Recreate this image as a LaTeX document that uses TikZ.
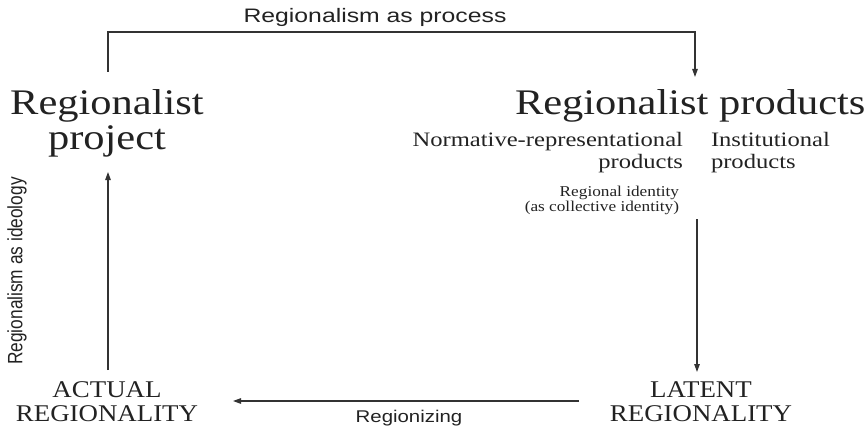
\documentclass[tikz,border=0pt]{standalone}
\usepackage{fontspec}
\setmainfont{Liberation Serif}
\newfontfamily\bigser[FakeStretch=1.18]{Liberation Serif}
\newfontfamily\midser[FakeStretch=1.2]{Liberation Serif}
\newfontfamily\smlser[FakeStretch=1.15]{Liberation Serif}
\newfontfamily\capser[FakeStretch=1.12]{Liberation Serif}
\newfontfamily\titsf[FakeStretch=1.27]{Liberation Sans}
\newfontfamily\labsf[FakeStretch=1.2]{Liberation Sans}
\newfontfamily\plainsf{Liberation Sans}
\usetikzlibrary{arrows.meta}
\definecolor{ink}{HTML}{222222}
\definecolor{lineink}{HTML}{333333}
\begin{document}
\begin{tikzpicture}[x=1pt,y=-1pt,
  every node/.style={inner sep=0pt, outer sep=0pt, text=ink},
  conn/.style={draw=lineink, line width=1.2pt},
  arr/.style={conn, -{Triangle[length=8pt,width=5.5pt]}},
  bigt/.style={font=\bigser\fontsize{36}{35}\selectfont, align=center},
  midt/.style={font=\midser\fontsize{20.5}{22}\selectfont},
  smlt/.style={font=\smlser\fontsize{15}{15}\selectfont},
  capt/.style={font=\capser\fontsize{24}{24}\selectfont, align=center},
  titt/.style={font=\titsf\fontsize{19.5}{22}\selectfont},
  labt/.style={font=\labsf\fontsize{17}{20}\selectfont}
]
\useasboundingbox (0,0) rectangle (868,428);

\node[titt, anchor=base] (title) at (375,23) {Regionalism as process};
\node[bigt, anchor=north] (proj) at (107,90) {Regionalist\\project};
\node[bigt, anchor=north west] (prod) at (515,90) {Regionalist products};
\node[midt, anchor=north east, align=right] (norm) at (683,132) {Normative-representational\\products};
\node[midt, anchor=north west, align=left] (inst) at (711,132) {Institutional\\products};
\node[smlt, anchor=north east, align=right] (ident) at (679,186) {Regional identity\\(as collective identity)};
\node[capt, anchor=north] (actual) at (107,382) {ACTUAL\\REGIONALITY};
\node[capt, anchor=north] (latent) at (701,382) {LATENT\\REGIONALITY};
\node[labt, anchor=base] (rgz) at (409,422) {Regionizing};
\node (ideo) at (17,271) {\scalebox{1.2}[1]{\rotatebox{90}{\plainsf\fontsize{17.3}{20}\selectfont Regionalism as ideology}}};

\coordinate (projtop) at (108,72);
\coordinate (prodtop) at (695,77);
\coordinate (identbot) at (697,219);
\coordinate (latenttop) at (697,372);
\coordinate (actualtop) at (108,370);
\coordinate (projbot) at (108,172);
\coordinate (latentleft) at (579,401);
\coordinate (actualright) at (233,401);

\draw[arr] (projtop) -- ++(0,-40) -| (prodtop);
\draw[arr] (identbot) -- (latenttop);
\draw[arr] (actualtop) -- (projbot);
\draw[arr] (latentleft) -- (actualright);
\end{tikzpicture}
\end{document}
